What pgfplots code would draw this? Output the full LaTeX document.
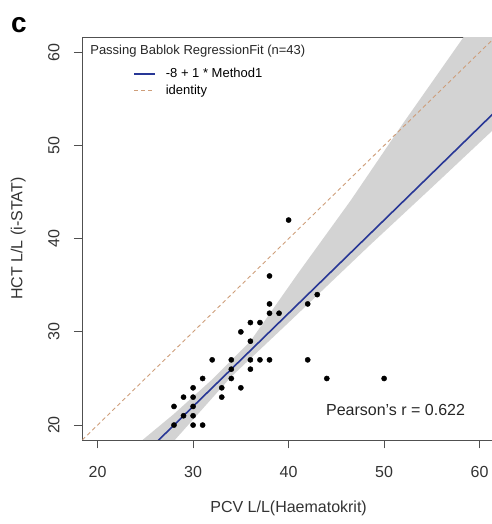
\documentclass[border=0pt]{standalone}
\usepackage{fontspec}
\setmainfont{Liberation Sans}
\usepackage{pgfplots}
\pgfplotsset{compat=1.18}
\definecolor{band}{RGB}{211,211,211}
\definecolor{regblue}{RGB}{40,55,150}
\definecolor{identc}{RGB}{206,158,122}
\definecolor{axc}{RGB}{80,80,80}
\begin{document}
\begin{tikzpicture}
\useasboundingbox (-82.3bp,-84bp) rectangle (409.7bp,440bp);
\begin{axis}[
  scale only axis,
  width=412.6bp, height=402.6bp,
  xmin=18.4, xmax=61.6, ymin=18.4, ymax=61.6,
  xtick={20,30,40,50,60}, ytick={20,30,40,50,60},
  tick align=outside, xtick pos=bottom, ytick pos=left,
  major tick length=8.5bp,
  axis line style={axc, line width=0.8bp},
  tick style={axc, line width=0.8bp},
  /pgf/number format/assume math mode=true,
  ticklabel style={font=\fontsize{16bp}{19bp}\selectfont, text=black!80},
  xticklabel style={anchor=center, yshift=-23bp},
  yticklabel style={rotate=90, anchor=center, yshift=20bp},
  xlabel={PCV L/L(Haematokrit)},
  ylabel={HCT L/L (i-STAT)},
  label style={font=\fontsize{16bp}{19bp}\selectfont, text=black!80},
  xlabel style={at={(axis description cs:0.5,-0.171)}, anchor=center},
  ylabel style={at={(axis description cs:-0.155,0.5)}, anchor=center},
  legend style={draw=none, fill=none, font=\fontsize{13bp}{16bp}\selectfont,
    at={(axis description cs:0.123,0.928)}, anchor=north west,
    row sep=1.5bp, inner sep=0pt},
  legend cell align=left,
  legend image code/.code={\draw[#1] (0bp,0bp) -- (21bp,0bp); \path (29bp,0bp);},
  clip=true,
]
% confidence band
\addplot[fill=band, draw=none, forget plot] coordinates {
 (22,16.2) (24,17.8) (28,21.2) (32,24.9) (36,29.0) (41,36.3) (46.5,44.1)
 (52,52.4) (58.3,61.6) (63,68.4)
 (63,53.2) (55,45.5) (48.5,39.3) (40,31) (34,25.2) (28,18.3) (22,12.2)
} -- cycle;
% identity
\addplot[identc, line width=0.9bp, dash pattern=on 4bp off 3bp, forget plot]
 coordinates {(18.4,18.4) (61.6,61.6)};
% regression
\addplot[regblue, line width=1.6bp, forget plot]
 coordinates {(18,10) (62,54)};
% points
\addplot[only marks, mark=*, mark size=2.6bp, black, forget plot] coordinates {
 (36,31) (37,31) (35,30) (36,29) (32,27) (34,27) (36,27) (37,27) (38,27)
 (42,27) (34,26) (36,26) (31,25) (34,25) (33,24) (35,24) (30,24) (29,23)
 (30,23) (33,23) (28,22) (30,22) (29,21) (30,21) (28,20) (30,20) (31,20)
 (44,25) (38,36) (38,33) (38,32) (39,32) (42,33) (43,34) (40,42) (50,25)
};
\addlegendimage{regblue, line width=1.6bp}
\addlegendentry{-8 + 1 * Method1}
\addlegendimage{identc, line width=0.9bp, dash pattern=on 4bp off 3bp}
\addlegendentry{identity}
\node[anchor=west, font=\fontsize{13bp}{16bp}\selectfont, text=black!85, inner sep=0pt]
  at (axis description cs:0.019,0.965) {Passing Bablok RegressionFit (n=43)};
\node[font=\fontsize{16bp}{19bp}\selectfont, text=black!85, inner sep=0pt]
  at (axis cs:51.2,21.6) {Pearson's r = 0.622};
\end{axis}
\node[font=\fontsize{28bp}{32bp}\selectfont\bfseries, inner sep=0pt]
  at (-63.5bp,415bp) {c};
\end{tikzpicture}
\end{document}
